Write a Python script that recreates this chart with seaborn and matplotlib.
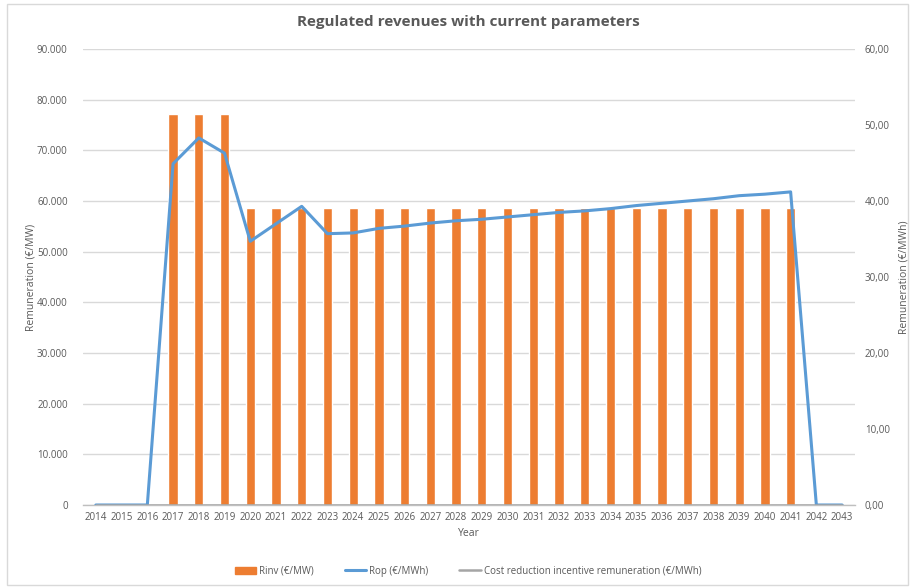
import numpy as np
import pandas as pd
import matplotlib
matplotlib.use("Agg")
import matplotlib.pyplot as plt
from matplotlib.patches import Rectangle
from matplotlib.lines import Line2D
from matplotlib.ticker import FuncFormatter
import seaborn as sns

years = list(range(2014, 2044))
rinv = [0, 0, 0, 77100, 77100, 77100] + [58600] * 22 + [0, 0]
rop = [0.0, 0.0, 0.0, 44.9, 48.3, 46.3, 34.7, 37.0, 39.3, 35.7, 35.8, 36.4,
       36.7, 37.1, 37.4, 37.6, 37.9, 38.2, 38.5, 38.7, 39.0, 39.4, 39.7, 40.0,
       40.3, 40.7, 40.9, 41.2, 0.0, 0.0]
cost_reduction = [0.0] * len(years)

labels = {
    "rinv": "Rinv (€/MW)",
    "rop": "Rop (€/MWh)",
    "crir": "Cost reduction incentive remuneration (€/MWh)",
}

ORANGE = "#ED7D31"
BLUE = "#5B9BD5"
GRAY = "#A5A5A5"
TXT = "#595959"
GRID = "#D9D9D9"

sns.set_theme(style="white")
plt.rcParams["font.family"] = ["Open Sans", "DejaVu Sans"]

df = pd.DataFrame({"year": [str(y) for y in years], "rinv": rinv,
                   "rop": rop, "crir": cost_reduction})
df["idx"] = np.arange(len(df))

fig = plt.figure(figsize=(9.14, 5.87), dpi=100)
ax = fig.add_axes([0.0908, 0.1397, 0.9354 - 0.0908, 0.9165 - 0.1397])

sns.barplot(data=df, x="year", y="rinv", color=ORANGE, width=0.36,
            saturation=1, ax=ax, zorder=2)
ax.set_ylim(0, 90000)
ax.set_yticks(np.arange(0, 90001, 10000))
ax.yaxis.set_major_formatter(FuncFormatter(
    lambda v, p: "0" if v == 0 else f"{int(v):,}".replace(",", ".")))
ax.set_xlim(-0.5, len(years) - 0.5)
ax.grid(axis="y", color=GRID, linewidth=1, zorder=0)
ax.set_axisbelow(True)
for s in ["top", "left", "right"]:
    ax.spines[s].set_visible(False)
ax.spines["bottom"].set_color("#BFBFBF")
ax.spines["bottom"].set_linewidth(1)
ax.tick_params(axis="both", length=0, labelsize=7, colors=TXT)
ax.tick_params(axis="y", pad=11)
ax.tick_params(axis="x", pad=5)
ax.set_xlabel("Year", fontsize=7.5, color=TXT, labelpad=4)
ax.set_ylabel("Remuneration (€/MW)", fontsize=7.5, color=TXT)
ax.yaxis.set_label_coords(-0.060, 0.5)

ax2 = ax.twinx()
sns.lineplot(data=df, x="idx", y="rop", color=BLUE, linewidth=2.2, ax=ax2,
             zorder=3)
sns.lineplot(data=df, x="idx", y="crir", color=GRAY, linewidth=1.8, ax=ax2,
             zorder=4)
ax2.set_ylim(0, 60)
ax2.set_yticks(np.arange(0, 61, 10))
ax2.yaxis.set_major_formatter(FuncFormatter(lambda v, p: f"{v:.2f}".replace(".", ",")))
ax2.set_xlim(-0.5, len(years) - 0.5)
for s in ["top", "left", "right", "bottom"]:
    ax2.spines[s].set_visible(False)
ax2.tick_params(axis="y", length=0, labelsize=7, colors=TXT, pad=7)
ax2.set_ylabel("Remuneration (€/MWh)", fontsize=7.5, color=TXT, labelpad=6)
ax2.set_xlabel("")

fig.suptitle("Regulated revenues with current parameters", x=0.512, y=0.975,
             fontsize=11, fontweight="bold", color=TXT)

handles = [
    Rectangle((0, 0), 1, 1, color=ORANGE),
    Line2D([0], [0], color=BLUE, linewidth=2.2),
    Line2D([0], [0], color=GRAY, linewidth=1.8),
]
leg = fig.legend(handles, [labels["rinv"], labels["rop"], labels["crir"]],
                 loc="center", bbox_to_anchor=(0.512, 0.027), ncol=3,
                 frameon=False, fontsize=7, handlelength=2.2,
                 handletextpad=0.3, columnspacing=3.2)
for t in leg.get_texts():
    t.set_color(TXT)

fig.patches.append(Rectangle((0.008, 0.004), 0.985, 0.99, transform=fig.transFigure,
                             fill=False, edgecolor="#D9D9D9", linewidth=1))

fig.savefig("out.png", dpi=100, facecolor="white")
